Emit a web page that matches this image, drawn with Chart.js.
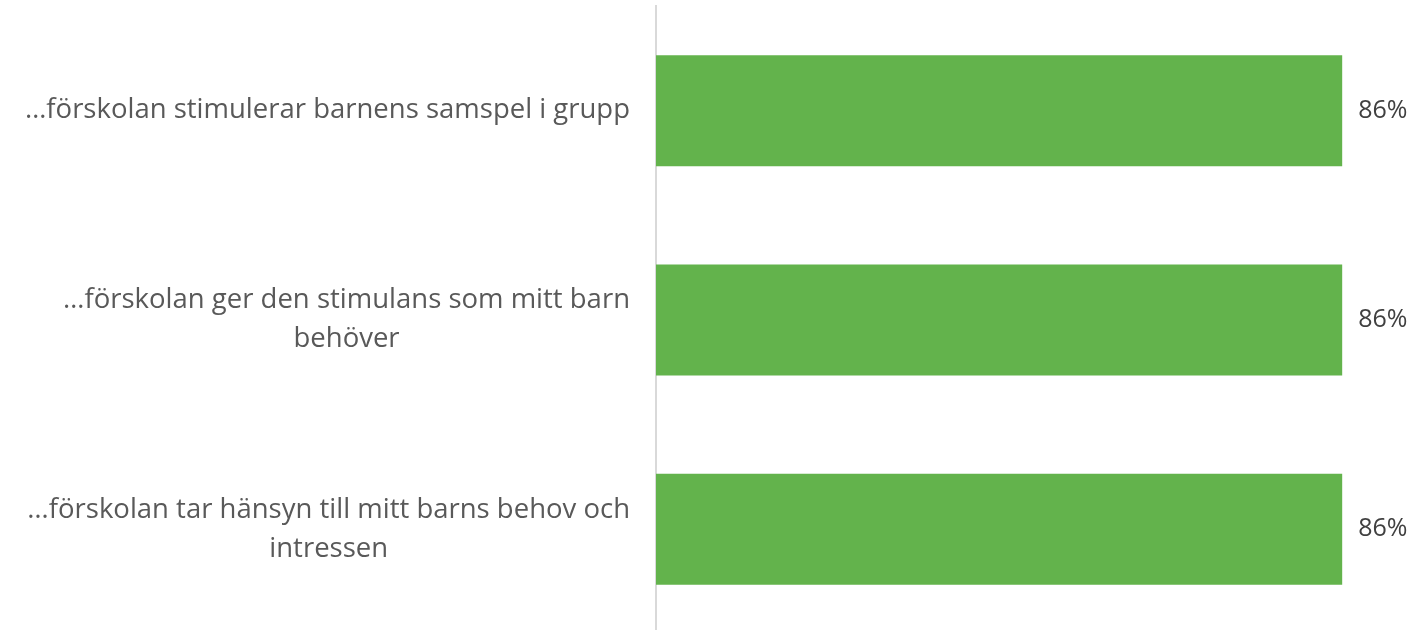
<!DOCTYPE html>
<html>
<head>
<meta charset="utf-8">
<script src="https://cdn.jsdelivr.net/npm/chart.js@4.4.0/dist/chart.umd.min.js"></script>
<style>
  html, body { margin: 0; padding: 0; background: #fff; overflow: hidden; }
  #wrap { width: 1414px; height: 636px; }
</style>
</head>
<body>
<div id="wrap"><canvas id="barChart"></canvas></div>
<script>
// data
const categories = [
  ['…förskolan stimulerar barnens samspel i grupp'],
  ['…förskolan ger den stimulans som mitt barn', 'behöver'],
  ['…förskolan tar hänsyn till mitt barns behov och', 'intressen']
];
const values = [86, 86, 86];
const valueLabels = ['86%', '86%', '86%'];

const labelFont = '27.5px "Open Sans"';
const valueFont = '25px "Open Sans"';

// draws the wrapped category labels (centred lines, right aligned block) and the value labels
const labelPlugin = {
  id: 'labelPlugin',
  afterDraw(chart) {
    const ctx = chart.ctx;
    const yScale = chart.scales.y;
    const xScale = chart.scales.x;
    const lineHeight = 39;
    ctx.save();
    ctx.textBaseline = 'middle';

    ctx.font = labelFont;
    ctx.fillStyle = '#595959';
    ctx.textAlign = 'center';
    categories.forEach((lines, i) => {
      const y = yScale.getPixelForValue(i);
      const maxW = Math.max(...lines.map(l => ctx.measureText(l).width));
      const cx = 630 - maxW / 2;
      const startY = y - (lines.length - 1) * lineHeight / 2;
      lines.forEach((l, j) => ctx.fillText(l, cx, startY + j * lineHeight));
    });

    ctx.font = valueFont;
    ctx.fillStyle = '#404040';
    ctx.textAlign = 'left';
    values.forEach((v, i) => {
      ctx.fillText(valueLabels[i], xScale.getPixelForValue(v) + 16, yScale.getPixelForValue(i));
    });
    ctx.restore();
  }
};

new Chart(document.getElementById('barChart'), {
  type: 'bar',
  data: {
    labels: categories,
    datasets: [{
      data: values,
      backgroundColor: '#63B34C',
      categoryPercentage: 1,
      barPercentage: 0.53
    }]
  },
  options: {
    indexAxis: 'y',
    responsive: true,
    maintainAspectRatio: false,
    animation: false,
    layout: { padding: { left: 648, top: 6, bottom: 2, right: 0 } },
    plugins: {
      legend: { display: false },
      tooltip: { enabled: false }
    },
    scales: {
      x: {
        display: false,
        min: 0,
        max: 95
      },
      y: {
        ticks: { display: false },
        grid: { display: false },
        border: { display: true, color: '#d9d9d9', width: 2 }
      }
    }
  },
  plugins: [labelPlugin]
});
</script>
</body>
</html>
